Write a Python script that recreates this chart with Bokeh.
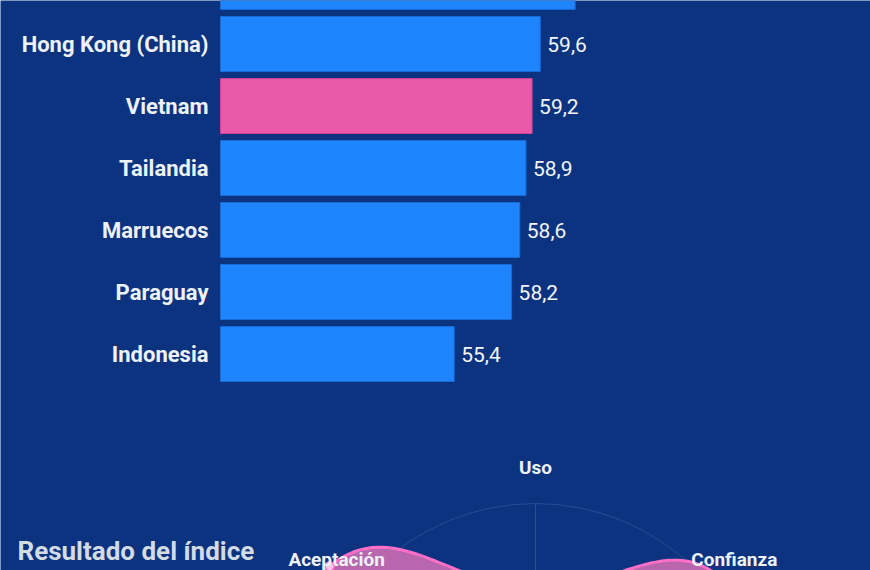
import math
from bokeh.plotting import figure
from bokeh.models import ColumnDataSource, Range1d, Label, CDSView, IndexFilter
from bokeh.embed import file_html
from bokeh.resources import INLINE
from bokeh.core.properties import value

# ---------------- data ----------------
countries = ["", "Hong Kong (China)", "Vietnam", "Tailandia", "Marruecos", "Paraguay", "Indonesia"]
scores = [61.3, 59.6, 59.2, 58.9, 58.6, 58.2, 55.4]
highlight = "Vietnam"
axis_min = 44

radar_axes = ["Uso", "Confianza", "", "", "", "", "Aceptación"]
radar_values = [31, 53, 43, 50, 48, 50, 58]
radar_ring = 50

title_text = "Resultado del índice"

# ---------------- style ----------------
BG = "#0b3380"
BLUE = "#1f85ff"
BLUE_LINE = "#176bd6"
PINK = "#e85aa7"
PINK_LINE = "#c8449a"
LABEL = "#eef2f7"
GRID = "#2a4c90"
FONT = "Roboto"

W, H = 870, 570
LEFT = 220           # page x of the bar baseline
px_per_unit = 20.5   # bar scale
row_px = 62          # row pitch
row0_y = -18.5       # page y of row 0 centre

# radar geometry (page px)
s = 227 / radar_ring
cx, cy = 535, 730

p = figure(width=W, height=H,
           x_range=Range1d(axis_min - LEFT / px_per_unit, axis_min + (W - LEFT) / px_per_unit),
           y_range=Range1d((H - row0_y) / row_px, (0 - row0_y) / row_px),
           x_axis_location=None, y_axis_location=None,
           output_backend="svg", toolbar_location=None,
           min_border_left=0, min_border_right=0, min_border_top=0, min_border_bottom=0,
           background_fill_color=BG, border_fill_color=BG, outline_line_color=None)
p.grid.visible = False
p.extra_x_ranges = {"rx": Range1d((0 - cx) / s, (W - cx) / s)}
p.extra_y_ranges = {"ry": Range1d((cy - H) / s, cy / s)}

# ---------------- bar chart ----------------
rows = list(range(len(countries)))
src = ColumnDataSource(dict(
    y=rows,
    v=scores,
    base=[axis_min] * len(rows),
    name=countries,
    color=[PINK if c == highlight else BLUE for c in countries],
    line=[PINK_LINE if c == highlight else BLUE_LINE for c in countries],
    lab=[f"{v:.1f}".replace(".", ",") for v in scores],
))
p.hbar(y="y", left="base", right="v", height=55 / row_px, fill_color="color",
       line_color="line", line_width=1, source=src)
view = CDSView(filter=IndexFilter([i for i, c in enumerate(countries) if c]))
p.text(x="v", y="y", text="lab", x_offset=7, text_baseline="middle", text_align="left",
       text_font=value(FONT), text_font_size="21px", text_color="#f2f5f9",
       source=src, view=view)
p.text(x="base", y="y", text="name", x_offset=-12, text_baseline="middle", text_align="right",
       text_font=value(FONT), text_font_style="bold", text_font_size="22px", text_color=LABEL,
       source=src, view=view)

# ---------------- radar chart ----------------
n = len(radar_axes)
ang = [math.pi / 2 - 2 * math.pi * k / n for k in range(n)]
R_ = dict(x_range_name="rx", y_range_name="ry")
p.circle(x=0, y=0, radius=radar_ring, fill_color=None, line_color=GRID, line_width=1, **R_)
p.segment(x0=[0] * n, y0=[0] * n,
          x1=[radar_ring * math.cos(a) for a in ang],
          y1=[radar_ring * math.sin(a) for a in ang],
          line_color=GRID, line_width=1, **R_)

xs = [v * math.cos(a) for v, a in zip(radar_values, ang)]
ys = [v * math.sin(a) for v, a in zip(radar_values, ang)]


def polar_spline(xs, ys, smoothing=1.5):
    m = len(xs)
    denom = smoothing + 1
    L, R = [], []
    for i in range(m):
        px, py = xs[i], ys[i]
        lx, ly = xs[i - 1], ys[i - 1]
        nx, ny = xs[(i + 1) % m], ys[(i + 1) % m]
        lcx, lcy = (smoothing * px + lx) / denom, (smoothing * py + ly) / denom
        rcx, rcy = (smoothing * px + nx) / denom, (smoothing * py + ny) / denom
        dl = math.hypot(lcx - px, lcy - py)
        dr = math.hypot(rcx - px, rcy - py)
        la = math.atan2(lcy - py, lcx - px)
        ra = math.atan2(rcy - py, rcx - px)
        ja = math.pi / 2 + (la + ra) / 2
        if math.cos(ja) * (lcx - px) + math.sin(ja) * (lcy - py) < 0:
            ja += math.pi
        L.append((px + math.cos(ja) * dl, py + math.sin(ja) * dl))
        R.append((px - math.cos(ja) * dr, py - math.sin(ja) * dr))
    return L, R


L, R = polar_spline(xs, ys)
cxs, cys = [], []
steps = 40
for i in range(n):
    j = (i + 1) % n
    p0 = (xs[i], ys[i]); c1 = R[i]; c2 = L[j]; p3 = (xs[j], ys[j])
    for t_i in range(steps):
        t = t_i / steps
        a0 = (1 - t) ** 3; a1 = 3 * (1 - t) ** 2 * t; a2 = 3 * (1 - t) * t ** 2; a3 = t ** 3
        cxs.append(a0 * p0[0] + a1 * c1[0] + a2 * c2[0] + a3 * p3[0])
        cys.append(a0 * p0[1] + a1 * c1[1] + a2 * c2[1] + a3 * p3[1])

p.patch(cxs, cys, fill_color="#b866ae", line_color="#ff6fc8", line_width=3, **R_)
p.scatter(x=xs, y=ys, size=9, fill_color="#f9c5e8", line_color="#ff6fc8", line_width=1.5, **R_)

lab_idx = [k for k in range(n) if radar_axes[k]]
r_lab = 58
lab_src = ColumnDataSource(dict(
    x=[r_lab * math.cos(ang[k]) for k in lab_idx],
    y=[r_lab * math.sin(ang[k]) for k in lab_idx],
    t=[radar_axes[k] for k in lab_idx],
    xo=[-9 * math.cos(ang[k]) for k in lab_idx],
    yo=[-9 * abs(math.cos(ang[k])) for k in lab_idx],
))
p.text(x="x", y="y", text="t", x_offset="xo", y_offset="yo", text_align="center",
       text_baseline="middle", text_font=value(FONT), text_font_style="bold",
       text_font_size="19px", text_color=LABEL, source=lab_src, **R_)

p.add_layout(Label(x=17, y=20, x_units="screen", y_units="screen", text=title_text,
                   text_font=FONT, text_font_style="bold", text_font_size="26px",
                   text_color="#d3dbe3", text_baseline="middle", text_align="left"))

open("out.html", "w").write(file_html(p, INLINE))
